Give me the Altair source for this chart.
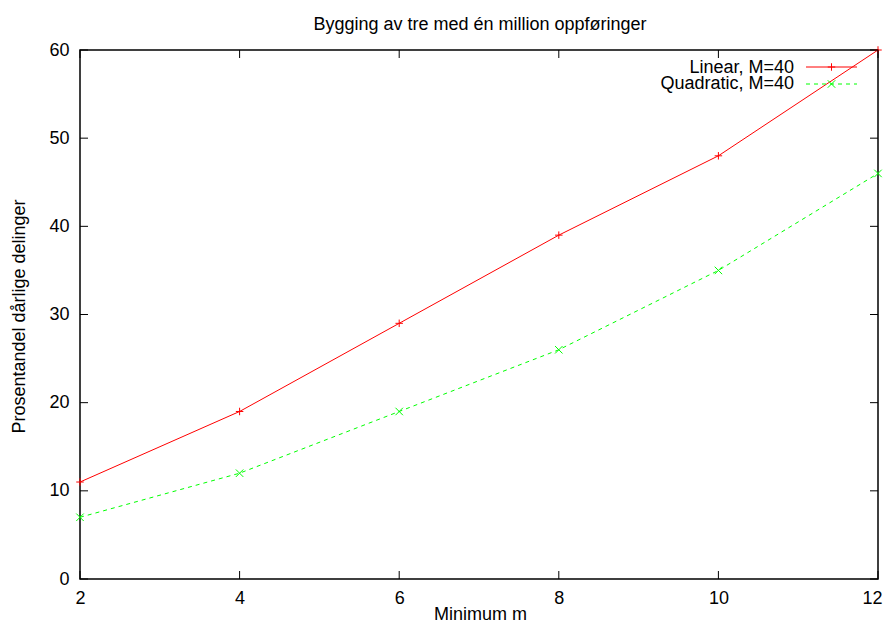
import altair as alt
import pandas as pd

# Data
m_values = [2, 4, 6, 8, 10, 12]
linear_vals = [11, 19, 29, 39, 48, 60]
quadratic_vals = [7, 12, 19, 26, 35, 46]
series_names = ["Linear, M=40", "Quadratic, M=40"]
x_ticks = [2, 4, 6, 8, 10, 12]
y_ticks = [0, 10, 20, 30, 40, 50, 60]
chart_title = "Bygging av tre med én million oppføringer"

W, H = 798, 529
FONT = "Liberation Sans"
FS = 18
RED = "#ff0000"
GREEN = "#00ff00"
PLUS = "M-1,0L1,0M0,-1L0,1"
CROSS = "M-1,-1L1,1M-1,1L1,-1"

lin_df = pd.DataFrame({"m": m_values, "v": linear_vals})
quad_df = pd.DataFrame({"m": m_values, "v": quadratic_vals})
xt_df = pd.DataFrame({"m": x_ticks})
yt_df = pd.DataFrame({"v": y_ticks})
title_df = pd.DataFrame({"t": [chart_title]})

xscale = alt.Scale(domain=[2, 12], nice=False, zero=False)
yscale = alt.Scale(domain=[0, 60], nice=False)

xaxis = alt.Axis(values=x_ticks, format="d", title="Minimum m", grid=False, domain=False,
                 ticks=False, labelFont=FONT, labelFontSize=FS, labelColor="black",
                 labelPadding=10, labelFlush=False,
                 labelAlign=alt.ExprRef("datum.value == 12 ? 'right' : 'center'"),
                 labelOffset=alt.ExprRef("datum.value == 12 ? 4 : 0"),
                 titleFont=FONT, titleFontSize=FS, titleFontWeight="normal", titleColor="black",
                 titleX=W / 2 + 1, titleY=40, titleBaseline="alphabetic")
yaxis = alt.Axis(values=y_ticks, format="d", title="Prosentandel dårlige delinger", grid=False,
                 domain=False, ticks=False, labelFont=FONT, labelFontSize=FS,
                 labelColor="black", labelPadding=11, labelFlush=False,
                 titleFont=FONT, titleFontSize=FS, titleFontWeight="normal", titleColor="black",
                 titleX=-56, titleY=266, titleAngle=-90, titleBaseline="alphabetic",
                 titleAlign="center")

X = alt.X("m:Q", scale=xscale, axis=xaxis)
Y = alt.Y("v:Q", scale=yscale, axis=yaxis)

lin_line = alt.Chart(lin_df).mark_line(color=RED, strokeWidth=1).encode(x=X, y=Y)
lin_pts = alt.Chart(lin_df).mark_point(shape=PLUS, color=RED, size=56, strokeWidth=1,
                                       filled=False, opacity=1).encode(
    x=alt.X("m:Q", scale=xscale), y=alt.Y("v:Q", scale=yscale))
quad_line = alt.Chart(quad_df).mark_line(color=GREEN, strokeWidth=1, strokeDash=[4, 4]).encode(
    x=alt.X("m:Q", scale=xscale), y=alt.Y("v:Q", scale=yscale))
quad_pts = alt.Chart(quad_df).mark_point(shape=CROSS, color=GREEN, size=56, strokeWidth=1,
                                         filled=False, opacity=1).encode(
    x=alt.X("m:Q", scale=xscale), y=alt.Y("v:Q", scale=yscale))

# Inward mirrored ticks (gnuplot style)
TL = 8
xb = alt.Chart(xt_df).mark_rule(color="black", strokeWidth=1).encode(
    x=alt.X("m:Q", scale=xscale), y=alt.value(H), y2=alt.value(H - TL))
xt = alt.Chart(xt_df).mark_rule(color="black", strokeWidth=1).encode(
    x=alt.X("m:Q", scale=xscale), y=alt.value(0), y2=alt.value(TL))
yl = alt.Chart(yt_df).mark_rule(color="black", strokeWidth=1).encode(
    y=alt.Y("v:Q", scale=yscale), x=alt.value(0), x2=alt.value(TL))
yr = alt.Chart(yt_df).mark_rule(color="black", strokeWidth=1).encode(
    y=alt.Y("v:Q", scale=yscale), x=alt.value(W), x2=alt.value(W - TL))

# Title as a text mark centred above the plot
title_mark = alt.Chart(title_df).mark_text(align="center", baseline="alphabetic", font=FONT,
                                           fontSize=FS, color="black").encode(
    text="t:N", x=alt.value(W / 2 + 1), y=alt.value(-20.5))

# Legend (gnuplot style: text left of sample)
leg_df1 = pd.DataFrame({"label": [series_names[0]]})
leg_df2 = pd.DataFrame({"label": [series_names[1]]})
LX_TEXT, LX1, LX2, LXM = 714, 726, 777, 751.5
LY1, LY2 = 17, 34
TB1, TB2 = 22.7, 39.3

leg_t1 = alt.Chart(leg_df1).mark_text(align="right", baseline="alphabetic", font=FONT,
                                      fontSize=FS, color="black").encode(
    text="label:N", x=alt.value(LX_TEXT), y=alt.value(TB1))
leg_l1 = alt.Chart(leg_df1).mark_rule(color=RED, strokeWidth=1).encode(
    x=alt.value(LX1), x2=alt.value(LX2), y=alt.value(LY1))
leg_p1 = alt.Chart(leg_df1).mark_point(shape=PLUS, color=RED, size=56, strokeWidth=1,
                                       filled=False, opacity=1).encode(
    x=alt.value(LXM), y=alt.value(LY1))
leg_t2 = alt.Chart(leg_df2).mark_text(align="right", baseline="alphabetic", font=FONT,
                                      fontSize=FS, color="black").encode(
    text="label:N", x=alt.value(LX_TEXT), y=alt.value(TB2))
leg_l2 = alt.Chart(leg_df2).mark_rule(color=GREEN, strokeWidth=1, strokeDash=[4, 4]).encode(
    x=alt.value(LX1), x2=alt.value(LX2), y=alt.value(LY2))
leg_p2 = alt.Chart(leg_df2).mark_point(shape=CROSS, color=GREEN, size=56, strokeWidth=1,
                                       filled=False, opacity=1).encode(
    x=alt.value(LXM), y=alt.value(LY2))

chart = alt.layer(
    lin_line, quad_line, lin_pts, quad_pts,
    xb, xt, yl, yr,
    leg_l1, leg_l2, leg_p1, leg_p2, leg_t1, leg_t2,
    title_mark,
).properties(
    width=W, height=H,
    autosize=alt.AutoSizeParams(type="none"),
    padding={"left": 72, "top": 42, "right": 5, "bottom": 45},
    background="white",
).configure_view(
    stroke="black", strokeWidth=1.5, clip=False
)

chart.save("out.html", embed_options={"renderer": "svg", "actions": False})
